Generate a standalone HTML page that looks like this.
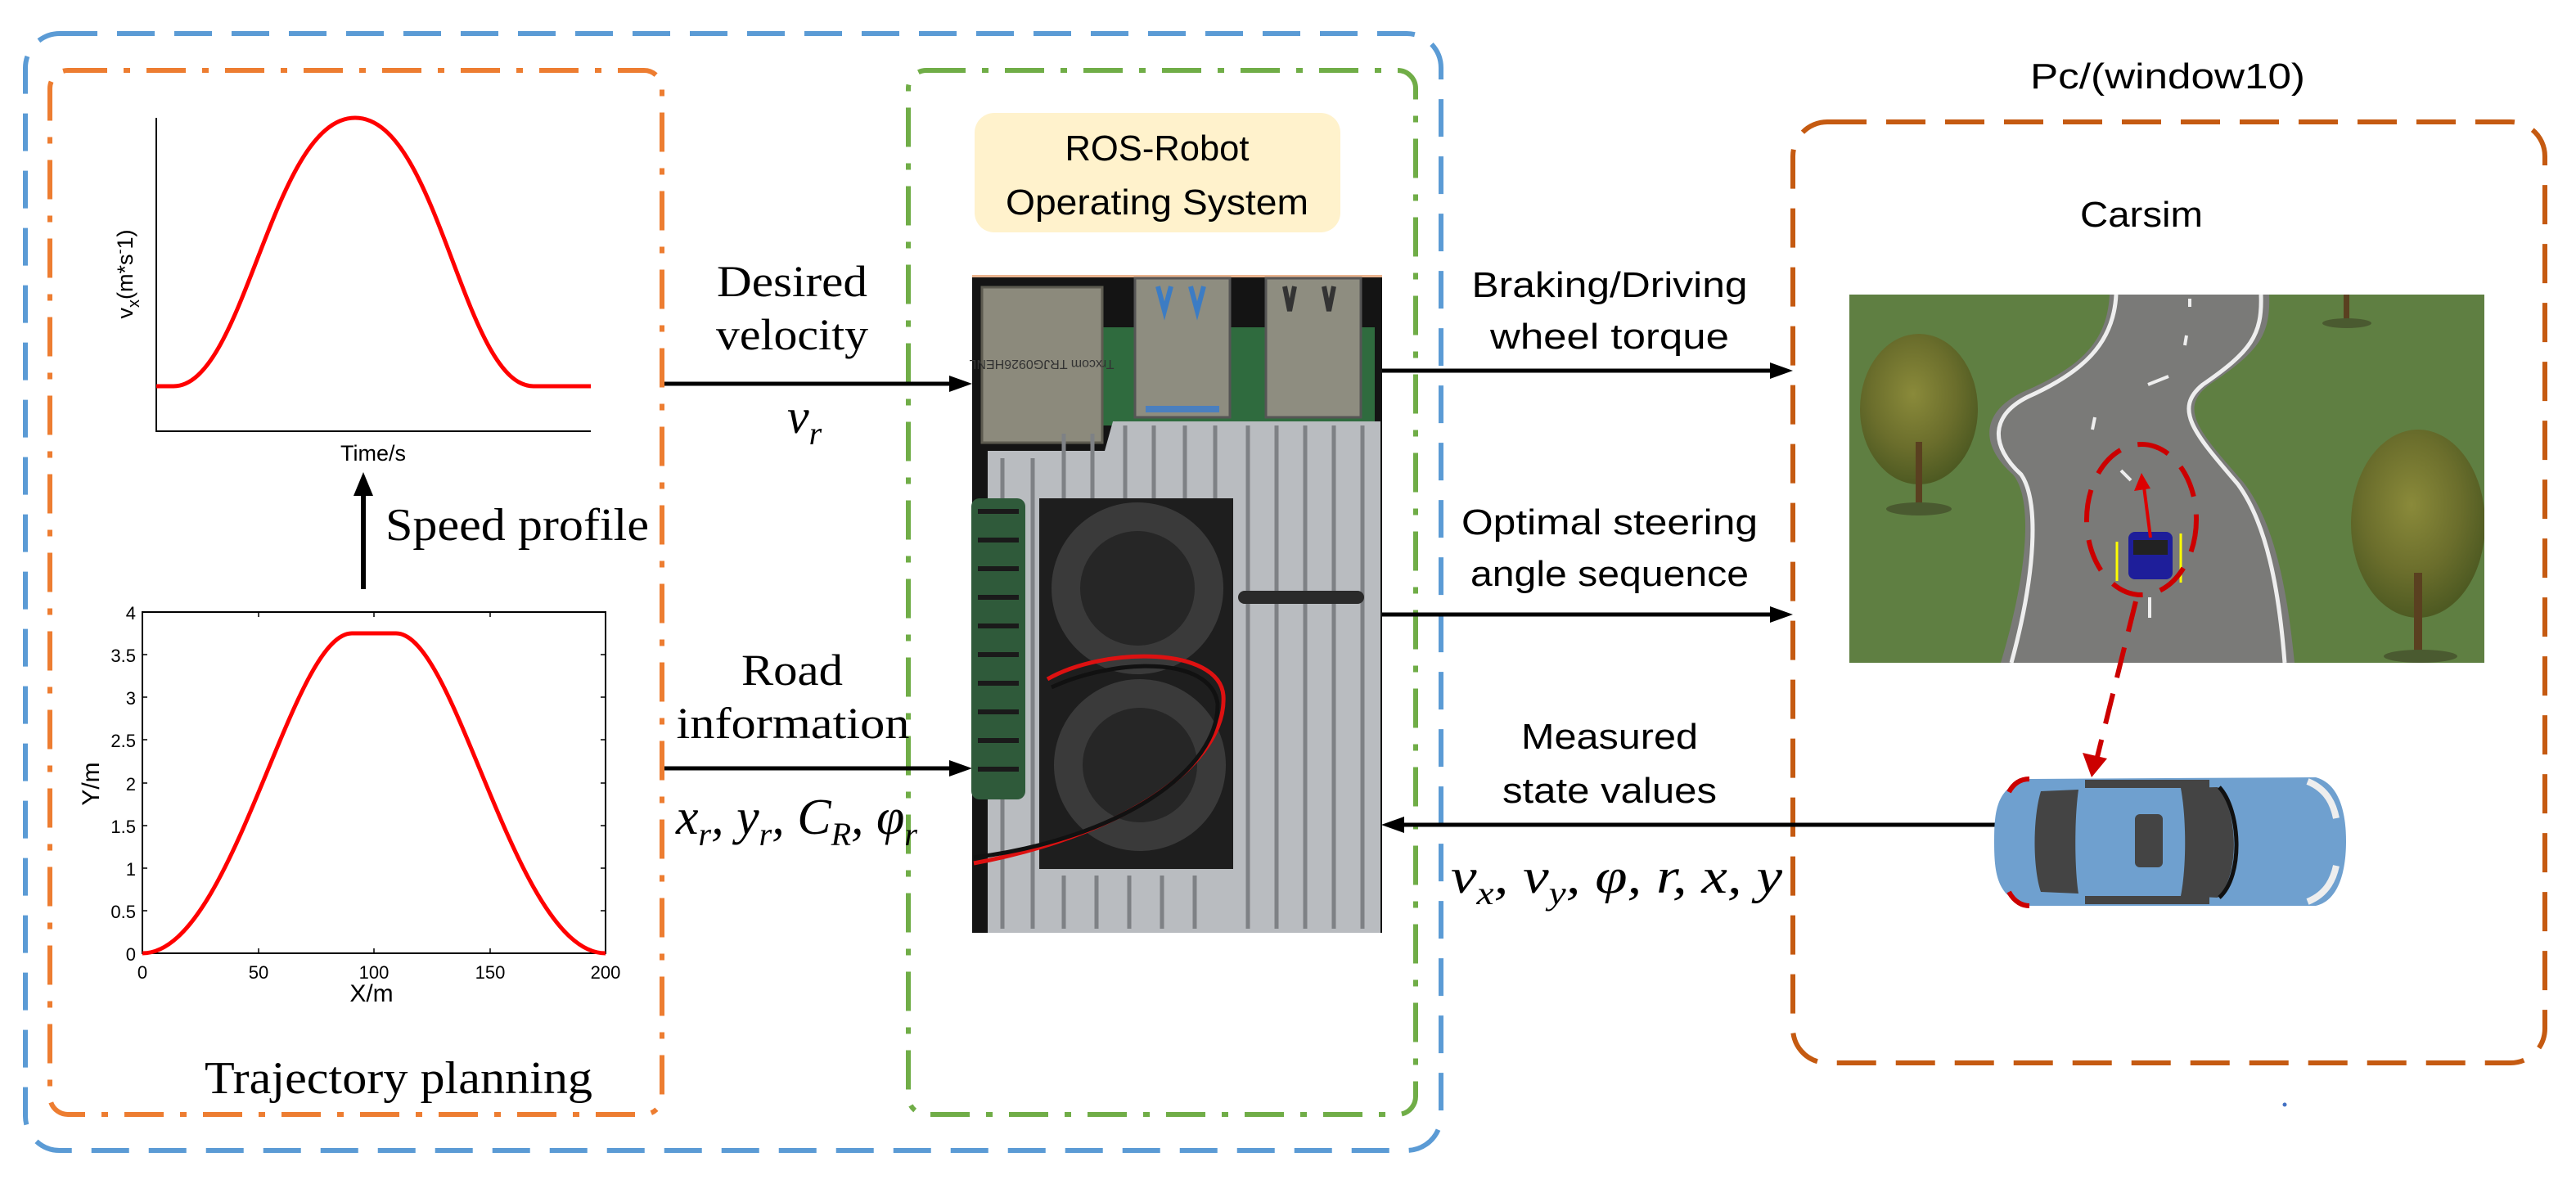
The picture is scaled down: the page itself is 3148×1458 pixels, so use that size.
<!DOCTYPE html>
<html><head><meta charset="utf-8"><style>
html,body{margin:0;padding:0;background:#fff;}
svg{display:block;}
.serif{font-family:"Liberation Serif",serif;}
.sans{font-family:"Liberation Sans",sans-serif;}
</style></head><body>
<svg width="3148" height="1458" viewBox="0 0 3148 1458" xmlns="http://www.w3.org/2000/svg">
<defs>
<radialGradient id="tree" cx="0.45" cy="0.4" r="0.6"><stop offset="0" stop-color="#8a8a3a"/><stop offset="0.6" stop-color="#6b6e2c"/><stop offset="1" stop-color="#4e5a22"/></radialGradient>
</defs>
<rect width="3148" height="1458" fill="#fff"/>

<rect x="31" y="41" width="1730" height="1365" rx="42" fill="none" stroke="#5b9bd5" stroke-width="6" stroke-dasharray="46 24"/>
<rect x="61" y="86" width="748" height="1276" rx="22" fill="none" stroke="#ed7d31" stroke-width="6" stroke-dasharray="48 20 8 20"/>
<rect x="1110" y="86" width="620" height="1276" rx="22" fill="none" stroke="#70ad47" stroke-width="6" stroke-dasharray="48 20 8 20"/>
<rect x="2191" y="149" width="919" height="1150" rx="42" fill="none" stroke="#c55a11" stroke-width="6" stroke-dasharray="48 24"/>

<polyline points="191,144 191,527 722,527" fill="none" stroke="#000" stroke-width="2"/>
<path d="M191,472 L212,472 C300,472 332,144 434,144 C536,144 566,472 652,472 L722,472" fill="none" stroke="#f00" stroke-width="5"/>
<text x="456" y="563" class="sans" font-size="27" text-anchor="middle">Time/s</text>
<text transform="translate(162,335) rotate(-90)" class="sans" font-size="27" text-anchor="middle">v<tspan font-size="20" dy="8">x</tspan><tspan dy="-8">(m*s</tspan><tspan font-size="18" dy="-10">-</tspan><tspan dy="10">1)</tspan></text>

<line x1="444" y1="720" x2="444" y2="600" stroke="#000" stroke-width="6"/>
<polygon points="444,577 432,606 456,606" fill="#000"/>
<text x="471" y="660" class="serif" font-size="56" textLength="322" lengthAdjust="spacingAndGlyphs">Speed profile</text>

<rect x="174" y="748" width="566" height="417" fill="none" stroke="#000" stroke-width="2"/>
<g stroke="#000" stroke-width="1.5">
<line x1="174" y1="800" x2="180" y2="800"/><line x1="174" y1="852" x2="180" y2="852"/><line x1="174" y1="904" x2="180" y2="904"/><line x1="174" y1="957" x2="180" y2="957"/><line x1="174" y1="1009" x2="180" y2="1009"/><line x1="174" y1="1061" x2="180" y2="1061"/><line x1="174" y1="1113" x2="180" y2="1113"/>
<line x1="740" y1="800" x2="734" y2="800"/><line x1="740" y1="852" x2="734" y2="852"/><line x1="740" y1="904" x2="734" y2="904"/><line x1="740" y1="957" x2="734" y2="957"/><line x1="740" y1="1009" x2="734" y2="1009"/><line x1="740" y1="1061" x2="734" y2="1061"/><line x1="740" y1="1113" x2="734" y2="1113"/>
<line x1="316" y1="1165" x2="316" y2="1159"/><line x1="457" y1="1165" x2="457" y2="1159"/><line x1="599" y1="1165" x2="599" y2="1159"/>
<line x1="316" y1="748" x2="316" y2="754"/><line x1="457" y1="748" x2="457" y2="754"/><line x1="599" y1="748" x2="599" y2="754"/>
</g>
<g class="sans" font-size="22" text-anchor="end">
<text x="166" y="757">4</text><text x="166" y="809">3.5</text><text x="166" y="861">3</text><text x="166" y="913">2.5</text><text x="166" y="966">2</text><text x="166" y="1018">1.5</text><text x="166" y="1070">1</text><text x="166" y="1122">0.5</text><text x="166" y="1174">0</text>
</g>
<g class="sans" font-size="22" text-anchor="middle">
<text x="174" y="1196">0</text><text x="316" y="1196">50</text><text x="457" y="1196">100</text><text x="599" y="1196">150</text><text x="740" y="1196">200</text>
</g>
<text x="454" y="1224" class="sans" font-size="30" text-anchor="middle">X/m</text>
<text transform="translate(121,958) rotate(-90)" class="sans" font-size="30" text-anchor="middle">Y/m</text>
<path d="M174,1165 C285,1165 355,774 430,774 L484,774 C559,774 629,1165 740,1165" fill="none" stroke="#f00" stroke-width="5"/>
<text x="250" y="1336" class="serif" font-size="56" textLength="474" lengthAdjust="spacingAndGlyphs">Trajectory planning</text>

<line x1="812" y1="469" x2="1165" y2="469" stroke="#000" stroke-width="5"/>
<polygon points="1188,469 1160,459 1160,479" fill="#000"/>
<text x="968" y="362" class="serif" font-size="54" text-anchor="middle" textLength="184" lengthAdjust="spacingAndGlyphs">Desired</text>
<text x="968" y="427" class="serif" font-size="54" text-anchor="middle" textLength="186" lengthAdjust="spacingAndGlyphs">velocity</text>
<text x="962" y="529" class="serif" font-size="60" font-style="italic">v<tspan font-size="40" dy="14">r</tspan></text>

<line x1="812" y1="939" x2="1165" y2="939" stroke="#000" stroke-width="5"/>
<polygon points="1188,939 1160,929 1160,949" fill="#000"/>
<text x="968" y="837" class="serif" font-size="54" text-anchor="middle" textLength="124" lengthAdjust="spacingAndGlyphs">Road</text>
<text x="969" y="902" class="serif" font-size="54" text-anchor="middle" textLength="285" lengthAdjust="spacingAndGlyphs">information</text>
<text x="826" y="1019" class="serif" font-size="62" font-style="italic">x<tspan font-size="40" dy="14">r</tspan><tspan dy="-14">, y</tspan><tspan font-size="40" dy="14">r</tspan><tspan dy="-14">, C</tspan><tspan font-size="40" dy="14">R</tspan><tspan dy="-14">, φ</tspan><tspan font-size="40" dy="14">r</tspan></text>

<rect x="1191" y="138" width="447" height="146" rx="24" fill="#fff2cc"/>
<text x="1414" y="196" class="sans" font-size="44" text-anchor="middle" textLength="225" lengthAdjust="spacingAndGlyphs">ROS-Robot</text>
<text x="1414" y="262" class="sans" font-size="44" text-anchor="middle" textLength="370" lengthAdjust="spacingAndGlyphs">Operating System</text>

<g>
<rect x="1188" y="336" width="501" height="804" fill="#141414"/>
<rect x="1188" y="336" width="501" height="3" fill="#e9b48f"/>
<rect x="1340" y="400" width="340" height="120" fill="#2f6b3e"/>
<rect x="1200" y="351" width="147" height="190" fill="#8c8a7c" stroke="#5d5b50" stroke-width="3"/>
<text x="1273" y="450" class="sans" font-size="16" fill="#333" text-anchor="middle" transform="rotate(180 1273 445)">Trxcom TRJG0926HENL</text>
<rect x="1387" y="340" width="116" height="170" fill="#8e8d80" stroke="#555" stroke-width="3"/>
<path d="M1415,350 l8,30 l8,-30 M1455,350 l8,30 l8,-30" stroke="#3c7cc4" stroke-width="6" fill="none"/>
<rect x="1547" y="340" width="116" height="170" fill="#8e8d80" stroke="#555" stroke-width="3"/>
<path d="M1570,350 l6,30 l6,-30 M1618,350 l6,30 l6,-30" stroke="#333" stroke-width="6" fill="none"/>
<rect x="1400" y="496" width="90" height="8" fill="#4a7fbf"/>
<path d="M1207,551 L1350,551 L1360,515 L1687,515 L1687,1140 L1207,1140 Z" fill="#b9bcc0"/>
<g stroke="#7e8185" stroke-width="5">
<line x1="1225" y1="560" x2="1225" y2="1135"/><line x1="1262" y1="560" x2="1262" y2="1135"/>
<line x1="1300" y1="530" x2="1300" y2="620"/><line x1="1335" y1="530" x2="1335" y2="620"/><line x1="1375" y1="520" x2="1375" y2="620"/><line x1="1410" y1="520" x2="1410" y2="620"/><line x1="1448" y1="520" x2="1448" y2="620"/><line x1="1485" y1="520" x2="1485" y2="620"/>
<line x1="1525" y1="520" x2="1525" y2="1135"/><line x1="1560" y1="520" x2="1560" y2="1135"/><line x1="1595" y1="520" x2="1595" y2="1135"/><line x1="1630" y1="520" x2="1630" y2="1135"/><line x1="1665" y1="520" x2="1665" y2="1135"/>
<line x1="1300" y1="1070" x2="1300" y2="1135"/><line x1="1340" y1="1070" x2="1340" y2="1135"/><line x1="1380" y1="1070" x2="1380" y2="1135"/><line x1="1420" y1="1070" x2="1420" y2="1135"/><line x1="1460" y1="1070" x2="1460" y2="1135"/>
</g>
<rect x="1187" y="609" width="66" height="368" rx="10" fill="#2f5a3a"/>
<g stroke="#1a1a1a" stroke-width="6">
<line x1="1195" y1="625" x2="1245" y2="625"/><line x1="1195" y1="660" x2="1245" y2="660"/><line x1="1195" y1="695" x2="1245" y2="695"/><line x1="1195" y1="730" x2="1245" y2="730"/><line x1="1195" y1="765" x2="1245" y2="765"/><line x1="1195" y1="800" x2="1245" y2="800"/><line x1="1195" y1="835" x2="1245" y2="835"/><line x1="1195" y1="870" x2="1245" y2="870"/><line x1="1195" y1="905" x2="1245" y2="905"/><line x1="1195" y1="940" x2="1245" y2="940"/>
</g>
<rect x="1270" y="609" width="237" height="453" fill="#1e1e1e"/>
<circle cx="1390" cy="719" r="105" fill="#3a3a3a"/>
<circle cx="1390" cy="719" r="70" fill="#262626"/>
<circle cx="1393" cy="935" r="105" fill="#3a3a3a"/>
<circle cx="1393" cy="935" r="70" fill="#262626"/>
<path d="M1280,830 C1350,790 1490,790 1495,850 C1500,930 1380,1020 1190,1055" fill="none" stroke="#d11" stroke-width="5"/>
<path d="M1285,840 C1360,805 1480,800 1488,860 C1490,940 1370,1025 1190,1048" fill="none" stroke="#111" stroke-width="5"/>
<rect x="1513" y="722" width="154" height="16" rx="8" fill="#2a2a2a"/>
</g>

<line x1="1689" y1="453" x2="2168" y2="453" stroke="#000" stroke-width="5"/>
<polygon points="2191,453 2163,443 2163,463" fill="#000"/>
<text x="1967" y="363" class="sans" font-size="44" text-anchor="middle" textLength="337" lengthAdjust="spacingAndGlyphs">Braking/Driving</text>
<text x="1967" y="426" class="sans" font-size="44" text-anchor="middle" textLength="292" lengthAdjust="spacingAndGlyphs">wheel torque</text>

<line x1="1689" y1="751" x2="2168" y2="751" stroke="#000" stroke-width="5"/>
<polygon points="2191,751 2163,741 2163,761" fill="#000"/>
<text x="1967" y="653" class="sans" font-size="44" text-anchor="middle" textLength="362" lengthAdjust="spacingAndGlyphs">Optimal steering</text>
<text x="1967" y="716" class="sans" font-size="44" text-anchor="middle" textLength="340" lengthAdjust="spacingAndGlyphs">angle sequence</text>

<line x1="1712" y1="1008" x2="2440" y2="1008" stroke="#000" stroke-width="5"/>
<polygon points="1688,1008 1716,998 1716,1018" fill="#000"/>
<text x="1967" y="915" class="sans" font-size="44" text-anchor="middle" textLength="216" lengthAdjust="spacingAndGlyphs">Measured</text>
<text x="1967" y="981" class="sans" font-size="44" text-anchor="middle" textLength="262" lengthAdjust="spacingAndGlyphs">state values</text>
<text x="1773" y="1091" class="serif" font-size="60" font-style="italic" textLength="405" lengthAdjust="spacingAndGlyphs">v<tspan font-size="40" dy="14">x</tspan><tspan dy="-14">, v</tspan><tspan font-size="40" dy="14">y</tspan><tspan dy="-14">, φ, r, x, y</tspan></text>

<text x="2649" y="108" class="sans" font-size="44" text-anchor="middle" textLength="336" lengthAdjust="spacingAndGlyphs">Pc/(window10)</text>
<text x="2617" y="277" class="sans" font-size="44" text-anchor="middle" textLength="150" lengthAdjust="spacingAndGlyphs">Carsim</text>

<svg x="2260" y="360" width="776" height="450" viewBox="2260 360 776 450">
<rect x="2260" y="360" width="776" height="450" fill="#5f7f42"/>
<path d="M2578,360 C2575,420 2540,450 2470,480 C2420,505 2420,545 2460,580 C2485,610 2478,700 2445,810 L2804,810 C2795,720 2780,640 2742,590 C2690,530 2660,500 2700,470 C2760,430 2775,410 2773,360 Z" fill="#7a7a78"/>
<path d="M2586,360 C2583,420 2545,455 2478,485 C2432,508 2432,545 2470,580 C2492,612 2488,700 2458,810" fill="none" stroke="#eee" stroke-width="5"/>
<path d="M2763,360 C2765,410 2750,430 2692,470 C2655,500 2682,530 2735,592 C2770,640 2785,720 2792,810" fill="none" stroke="#eee" stroke-width="5"/>
<path d="M2676,365 l0,10 M2672,410 l-2,12 M2650,460 l-25,10 M2560,510 l-3,15 M2592,575 l12,12 M2627,730 l0,25" stroke="#eee" stroke-width="4"/>
<ellipse cx="2345" cy="500" rx="72" ry="92" fill="url(#tree)"/>
<rect x="2341" y="540" width="8" height="80" fill="#5a4020"/>
<ellipse cx="2345" cy="622" rx="40" ry="8" fill="#4a5a30"/>
<ellipse cx="2955" cy="640" rx="82" ry="115" fill="url(#tree)"/>
<rect x="2950" y="700" width="10" height="100" fill="#5a4020"/>
<ellipse cx="2958" cy="802" rx="45" ry="8" fill="#4a5a30"/>
<rect x="2864" y="360" width="7" height="32" fill="#5a4020"/>
<ellipse cx="2868" cy="395" rx="30" ry="6" fill="#4a5a30"/>
<rect x="2601" y="650" width="54" height="58" rx="8" fill="#1e1e9a"/>
<rect x="2607" y="660" width="42" height="18" fill="#222"/>
<line x1="2587" y1="662" x2="2587" y2="710" stroke="#ff0" stroke-width="3"/>
<line x1="2665" y1="652" x2="2665" y2="712" stroke="#ff0" stroke-width="3"/>
<line x1="2628" y1="657" x2="2620" y2="595" stroke="#d00" stroke-width="4"/>
<polygon points="2617,578 2608,600 2628,597" fill="#d00"/>
<ellipse cx="2617" cy="635" rx="67" ry="92" fill="none" stroke="#c00" stroke-width="6" stroke-dasharray="40 22"/>
</svg>

<path d="M2610,735 L2563,925" stroke="#c00" stroke-width="6" stroke-dasharray="38 20" fill="none"/>
<polygon points="2556,950 2545,920 2575,927" fill="#c00"/>

<path d="M2480,952 C2440,960 2437,990 2437,1028 C2437,1068 2440,1098 2480,1107 L2830,1107 C2860,1100 2867,1060 2867,1028 C2867,996 2860,958 2830,950 Z" fill="#6fa0cf"/>
<path d="M2455,968 C2462,955 2472,952 2480,952" stroke="#c00" stroke-width="6" fill="none"/>
<path d="M2455,1090 C2462,1103 2472,1107 2480,1107" stroke="#c00" stroke-width="6" fill="none"/>
<path d="M2494,967 L2540,965 C2535,1000 2535,1060 2540,1092 L2494,1090 C2484,1060 2484,1000 2494,967 Z" fill="#444"/>
<path d="M2665,963 L2710,962 C2735,990 2738,1070 2710,1097 L2665,1095 C2672,1060 2672,1000 2665,963 Z" fill="#444"/>
<path d="M2712,962 C2738,990 2742,1070 2712,1097" stroke="#111" stroke-width="5" fill="none"/>
<rect x="2609" y="995" width="34" height="65" rx="6" fill="#444"/>
<rect x="2548" y="953" width="152" height="10" fill="#444"/>
<rect x="2548" y="1095" width="152" height="10" fill="#444"/>
<path d="M2820,955 C2845,965 2852,985 2855,1000" stroke="#eee" stroke-width="8" fill="none"/>
<path d="M2820,1102 C2845,1092 2852,1072 2855,1058" stroke="#eee" stroke-width="8" fill="none"/>

<circle cx="2792" cy="1350" r="2.5" fill="#4472c4"/>
</svg>
</body></html>
